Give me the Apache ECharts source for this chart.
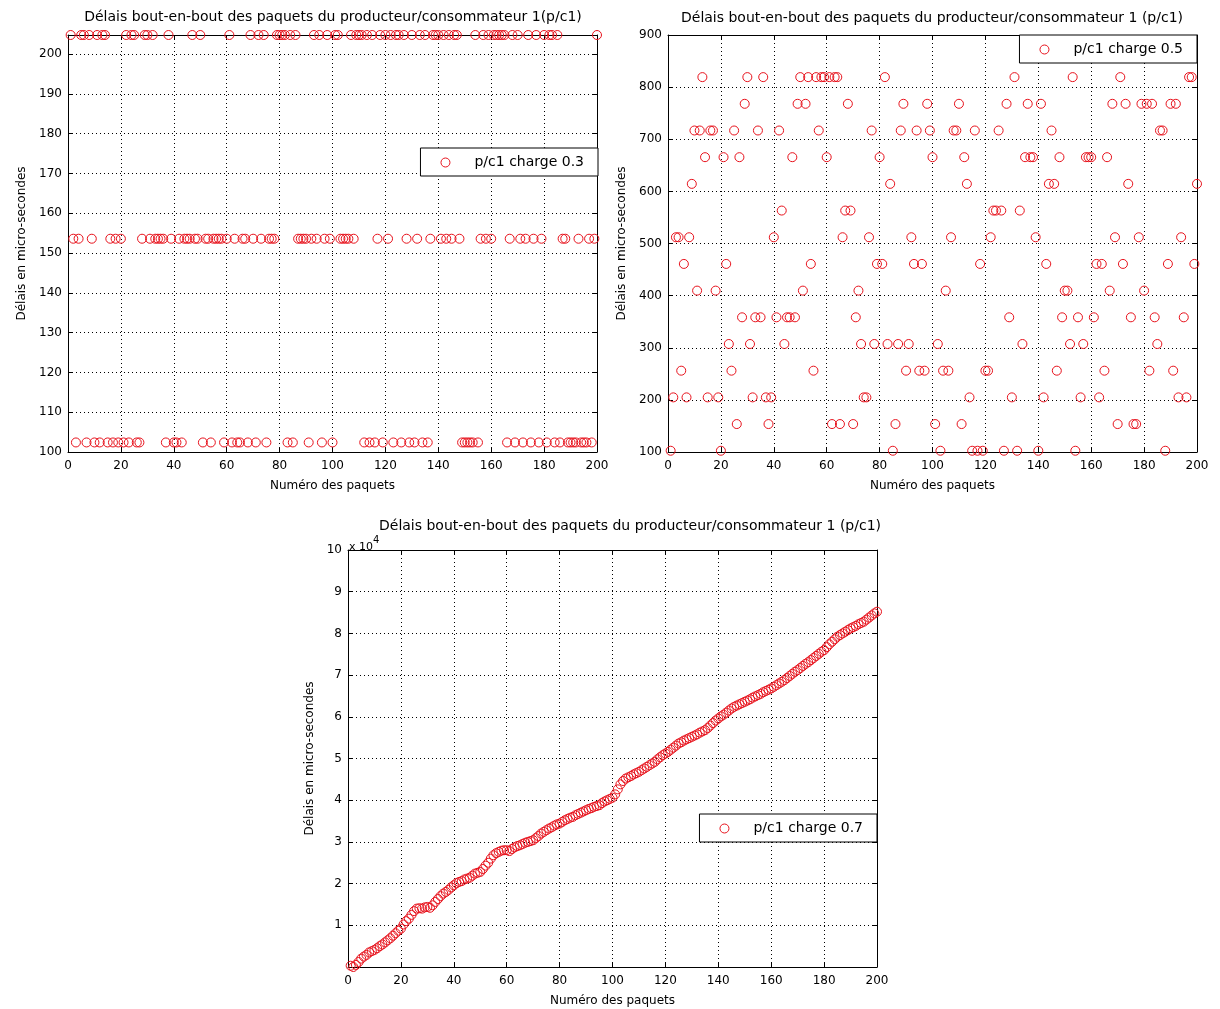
<!DOCTYPE html>
<html><head><meta charset="utf-8">
<script src="https://cdn.jsdelivr.net/npm/echarts@6/dist/echarts.min.js"></script>
<style>html,body{margin:0;padding:0;background:#fff}#c{width:1220px;height:1009px}</style>
</head><body><div id="c"></div>
<script>
const packets = Array.from({length: 200}, (_, i) => i + 1);
const xTicks = [0, 20, 40, 60, 80, 100, 120, 140, 160, 180, 200];
const seriesNames = ['p/c1 charge 0.3', 'p/c1 charge 0.5', 'p/c1 charge 0.7'];
const titles = [
  'Délais bout-en-bout des paquets du producteur/consommateur 1(p/c1)',
  'Délais bout-en-bout des paquets du producteur/consommateur 1 (p/c1)',
  'Délais bout-en-bout des paquets du producteur/consommateur 1 (p/c1)'
];
const xLabel = 'Numéro des paquets';
const yLabel = 'Délais en micro-secondes';

const delays03 = [
204.8,153.6,102.4,153.6,204.8,204.8,102.4,204.8,153.6,102.4,
204.8,102.4,204.8,204.8,102.4,153.6,102.4,153.6,102.4,153.6,
102.4,204.8,102.4,204.8,204.8,102.4,102.4,153.6,204.8,204.8,
153.6,204.8,153.6,153.6,153.6,153.6,102.4,204.8,153.6,102.4,
102.4,153.6,102.4,153.6,153.6,153.6,204.8,153.6,153.6,204.8,
102.4,153.6,153.6,102.4,153.6,153.6,153.6,153.6,102.4,153.6,
204.8,102.4,153.6,102.4,102.4,153.6,153.6,102.4,204.8,153.6,
102.4,204.8,153.6,204.8,102.4,153.6,153.6,153.6,204.8,204.8,
204.8,204.8,102.4,204.8,102.4,204.8,153.6,153.6,153.6,153.6,
102.4,153.6,204.8,153.6,204.8,102.4,153.6,204.8,153.6,102.4,
204.8,204.8,153.6,153.6,153.6,153.6,204.8,153.6,204.8,204.8,
204.8,102.4,204.8,102.4,204.8,102.4,153.6,204.8,102.4,204.8,
153.6,204.8,102.4,204.8,204.8,102.4,204.8,153.6,102.4,204.8,
102.4,153.6,204.8,102.4,204.8,102.4,153.6,204.8,204.8,204.8,
153.6,204.8,153.6,204.8,153.6,204.8,204.8,153.6,102.4,102.4,
102.4,102.4,102.4,204.8,102.4,153.6,204.8,153.6,204.8,153.6,
204.8,204.8,204.8,204.8,204.8,102.4,153.6,204.8,102.4,204.8,
153.6,102.4,153.6,204.8,102.4,153.6,204.8,102.4,153.6,204.8,
102.4,204.8,204.8,102.4,204.8,102.4,153.6,153.6,102.4,102.4,
102.4,102.4,153.6,102.4,102.4,102.4,153.6,102.4,153.6,204.8
];

const delays05 = [
102.4,204.8,512,512,256,460.8,204.8,512,614.4,716.8,
409.6,716.8,819.2,665.6,204.8,716.8,716.8,409.6,204.8,102.4,
665.6,460.8,307.2,256,716.8,153.6,665.6,358.4,768,819.2,
307.2,204.8,358.4,716.8,358.4,819.2,204.8,153.6,204.8,512,
358.4,716.8,563.2,307.2,358.4,358.4,665.6,358.4,768,819.2,
409.6,768,819.2,460.8,256,819.2,716.8,819.2,819.2,665.6,
819.2,153.6,819.2,819.2,153.6,512,563.2,768,563.2,153.6,
358.4,409.6,307.2,204.8,204.8,512,716.8,307.2,460.8,665.6,
460.8,819.2,307.2,614.4,102.4,153.6,307.2,716.8,768,256,
307.2,512,460.8,716.8,256,460.8,256,768,716.8,665.6,
153.6,307.2,102.4,256,409.6,256,512,716.8,716.8,768,
153.6,665.6,614.4,204.8,102.4,716.8,102.4,460.8,102.4,256,
256,512,563.2,563.2,716.8,563.2,102.4,768,358.4,204.8,
819.2,102.4,563.2,307.2,665.6,768,665.6,665.6,512,102.4,
768,204.8,460.8,614.4,716.8,614.4,256,665.6,358.4,409.6,
409.6,307.2,819.2,102.4,358.4,204.8,307.2,665.6,665.6,665.6,
358.4,460.8,204.8,460.8,256,665.6,409.6,768,512,153.6,
819.2,460.8,768,614.4,358.4,153.6,153.6,512,768,409.6,
768,256,768,358.4,307.2,716.8,716.8,102.4,460.8,768,
256,768,204.8,512,358.4,204.8,819.2,819.2,460.8,614.4
];

const delays07 = [
300,0,500,1200,2000,2500,2900,3500,3800,4100,
4500,5000,5400,5900,6400,6900,7500,8100,8700,9200,
10200,11000,11600,12500,13400,14000,14100,14000,14300,14400,
14200,14800,15600,16300,17000,17600,18000,18500,19100,19600,
20100,20400,20600,21000,21200,21400,21900,22400,22600,22800,
23500,24300,25000,26000,26800,27300,27600,27900,28000,28000,
27800,28300,28700,29000,29200,29500,29800,30000,30200,30400,
30900,31400,32000,32400,32800,33200,33500,33900,34200,34400,
34800,35200,35500,35800,36000,36400,36700,37000,37300,37600,
37900,38100,38400,38600,38800,39300,39700,40000,40300,40600,
41400,42600,43800,44600,45200,45500,45800,46200,46500,46800,
47200,47600,48000,48400,48800,49200,49800,50300,50800,51200,
51600,52100,52600,53100,53600,53900,54300,54600,54900,55200,
55500,55800,56200,56500,56800,57300,57900,58500,59100,59600,
60100,60500,61000,61500,62000,62400,62700,63000,63300,63600,
63900,64200,64600,64900,65200,65500,65900,66200,66500,66800,
67200,67600,68000,68400,68800,69300,69800,70300,70800,71200,
71700,72200,72700,73100,73600,74100,74600,75100,75600,76000,
76700,77400,78000,78600,79200,79600,80000,80400,80800,81200,
81500,81800,82200,82500,82800,83300,83800,84300,84800,85200
];

const FONT = '"DejaVu Sans", sans-serif';
const RED = '#e8121c';

const grids = [
  {left: 68, top: 35, width: 529, height: 417},
  {left: 668, top: 35, width: 529, height: 417},
  {left: 348, top: 550, width: 529, height: 417}
];
const yRanges = [
  {min: 100, max: 204.8, interval: 10, gap: 40},
  {min: 100, max: 900, interval: 100, gap: 40},
  {min: 0, max: 100000, interval: 10000, gap: 32}
];
const allDelays = [delays03, delays05, delays07];

const axisLine = {show: true, onZero: false, lineStyle: {color: '#000', width: 1}};
const tick = {show: true, inside: true, length: 5, lineStyle: {color: '#000', width: 1}};
const split = {show: true, lineStyle: {color: '#000', width: 1, type: [1, 3]}};

const xAxis = [], yAxis = [], series = [], legend = [];
grids.forEach((g, i) => {
  xAxis.push({
    gridIndex: i, type: 'value', min: xTicks[0], max: xTicks[xTicks.length - 1], interval: 20,
    position: 'bottom', axisLine, axisTick: tick, splitLine: split,
    axisLabel: {color: '#000', fontFamily: FONT, fontSize: 12, margin: 8},
    name: xLabel, nameLocation: 'middle', nameGap: 28,
    nameTextStyle: {color: '#000', fontFamily: FONT, fontSize: 12}
  });
  xAxis.push({
    gridIndex: i, type: 'value', min: 0, max: 200, interval: 20, position: 'top',
    axisLine, axisTick: tick, splitLine: {show: false}, axisLabel: {show: false}
  });
  const r = yRanges[i];
  yAxis.push({
    gridIndex: i, type: 'value', min: r.min, max: r.max, interval: r.interval,
    position: 'left', axisLine, axisTick: tick, splitLine: split,
    axisLabel: {
      color: '#000', fontFamily: FONT, fontSize: 12, margin: 6,
      showMaxLabel: i === 0 ? false : true, showMinLabel: i === 2 ? false : true,
      formatter: i === 2 ? (v => String(v / 10000)) : (v => String(v))
    },
    name: yLabel, nameLocation: 'middle', nameGap: r.gap,
    nameTextStyle: {color: '#000', fontFamily: FONT, fontSize: 12}
  });
  yAxis.push({
    gridIndex: i, type: 'value', min: r.min, max: r.max, interval: r.interval,
    position: 'right', axisLine, axisTick: tick, splitLine: {show: false}, axisLabel: {show: false}
  });
  series.push({
    name: seriesNames[i], type: 'scatter', xAxisIndex: 2 * i, yAxisIndex: 2 * i,
    symbol: 'circle', symbolSize: 9,
    itemStyle: {color: 'rgba(0,0,0,0)', borderColor: RED, borderWidth: 1, opacity: 1},
    emphasis: {disabled: true},
    data: packets.map((n, k) => [n, allDelays[i][k]]),
    z: 3
  });
});

legend.push(
  {right: 1220 - 598, top: 148},
  {right: 1220 - 1197, top: 35},
  {right: 1220 - 877, top: 814}
);
legend.forEach((l, i) => {
  Object.assign(l, {
    data: [seriesNames[i]], orient: 'horizontal',
    backgroundColor: '#fff', borderColor: '#000', borderWidth: 1, borderRadius: 0,
    padding: [7, 14, 6, 20], itemWidth: 48, itemHeight: 9,
    itemStyle: {color: 'rgba(0,0,0,0)', borderColor: RED, borderWidth: 1},
    textStyle: {color: '#000', fontFamily: FONT, fontSize: 14, lineHeight: 15},
    selectedMode: false, z: 10
  });
});

const tStyle = {fill: '#000', font: '14px ' + FONT, textAlign: 'center', textVerticalAlign: 'middle', align: 'center', verticalAlign: 'middle'};
const graphic = [
  {type: 'text', x: 333, y: 17, style: Object.assign({text: titles[0]}, tStyle)},
  {type: 'text', x: 932, y: 18, style: Object.assign({text: titles[1]}, tStyle)},
  {type: 'text', x: 630, y: 526, style: Object.assign({text: titles[2]}, tStyle)},
  {type: 'text', x: 349, y: 547, style: {text: 'x 10', fill: '#000', font: '11px ' + FONT, textAlign: 'left', textVerticalAlign: 'middle', align: 'left', verticalAlign: 'middle'}},
  {type: 'text', x: 373, y: 540, style: {text: '4', fill: '#000', font: '10px ' + FONT, textAlign: 'left', textVerticalAlign: 'middle', align: 'left', verticalAlign: 'middle'}}
];

const chart = echarts.init(document.getElementById('c'), null, {renderer: 'canvas'});
chart.setOption({
  animation: false,
  backgroundColor: '#fff',
  grid: grids.map(g => Object.assign({show: false, outerBoundsMode: 'none', containLabel: false}, g)),
  xAxis, yAxis, series, legend, graphic,
  tooltip: {show: false}
});
</script></body></html>
